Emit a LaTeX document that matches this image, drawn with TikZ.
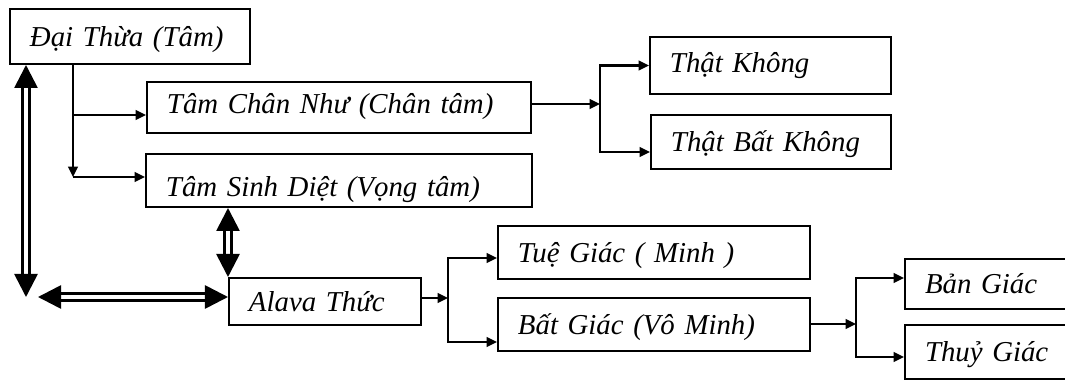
\documentclass[tikz,border=0pt]{standalone}
\usepackage{fontspec}
\setmainfont{Liberation Serif}
\usetikzlibrary{arrows.meta,positioning}

\begin{document}
\begin{tikzpicture}[
  x=0.025cm, y=-0.025cm,
  every node/.style={font=\itshape\fontsize{20.5}{24}\selectfont},
  box/.style 2 args={rectangle, draw=black, line width=1.4pt, anchor=north west,
    minimum width=#1, minimum height=#2, text width=#1-1cm, align=left,
    inner xsep=0.5cm, inner ysep=0pt, text height=20pt, text depth=6pt},
  arrow/.style={-{Triangle[length=0.26cm, width=0.24cm]}, line width=1.5pt},
  dbl/.style={{Triangle[length=0.575cm, width=0.575cm]}-{Triangle[length=0.575cm, width=0.575cm]},
    double, line width=1.9pt, double distance=2.8pt}
]
\useasboundingbox (0,0) rectangle (1065,380);

% --- TOP ---
\node[box={6cm}{1.375cm}] (dai) at (9,8) {Đại Thừa (Tâm)};
\node[box={9.6cm}{1.275cm}, text height=15pt] (chan) at (146,81) {Tâm Chân Như (Chân tâm)};
\node[box={9.65cm}{1.325cm}, text height=29pt] (sinh) at (145,153) {Tâm Sinh Diệt (Vọng tâm)};
\node[box={6.025cm}{1.425cm}, text height=16.5pt] (khong) at (649,36) {Thật Không};
\node[box={6cm}{1.35cm}] (batkhong) at (650,114) {Thật Bất Không};

% --- BOTTOM ---
\node[box={4.8cm}{1.175cm}] (alava) at (228,277) {Alava Thức};
\node[box={7.8cm}{1.325cm}] (tue) at (497,225) {Tuệ Giác ( Minh )};
\node[box={7.8cm}{1.325cm}] (batgiac) at (497,297) {Bất Giác (Vô Minh)};
\node[box={4.5cm}{1.25cm}] (ban) at (904,258) {Bản Giác};
\node[box={4.5cm}{1.35cm}] (thuy) at (904,324) {Thuỷ Giác};

% --- JUNCTIONS ---
\coordinate (j1) at (73,115);
\coordinate (j2) at (73,177);
\coordinate (j3) at (600,104);
\coordinate (j4) at (448,298);
\coordinate (j5) at (856,324);
\coordinate (lft) at (26,297);
\coordinate (lfth) at (38,297);

% Dai Thua to the two minds
\draw[arrow] (dai.south -| j1) -- (j2);
\draw[arrow] (j1) -- (j1 -| chan.west);
\draw[arrow] (j2) -- (j2 -| sinh.west);

% Chan Nhu split
\draw[arrow] (chan.east |- j3) -- (j3);
\draw[arrow] (j3) |- (khong.west);
\draw[arrow] (j3) |- (batkhong.west |- 0,152);

% Alava split
\draw[arrow] (alava.east |- j4) -- (j4);
\draw[arrow] (j4) |- (tue.west |- 0,258);
\draw[arrow] (j4) |- (batgiac.west |- 0,342);

% Bat Giac split
\draw[arrow] (batgiac.east |- j5) -- (j5);
\draw[arrow] (j5) |- (ban.west |- 0,278);
\draw[arrow] (j5) |- (thuy.west |- 0,357);

% --- DOUBLE LINKS ---
\draw[dbl] (dai.south -| lft) -- (lft);
\draw[dbl] (lfth) -- (lfth -| alava.west);
\draw[dbl] (sinh.south -| alava.west) -- (alava.north west);

\end{tikzpicture}
\end{document}
